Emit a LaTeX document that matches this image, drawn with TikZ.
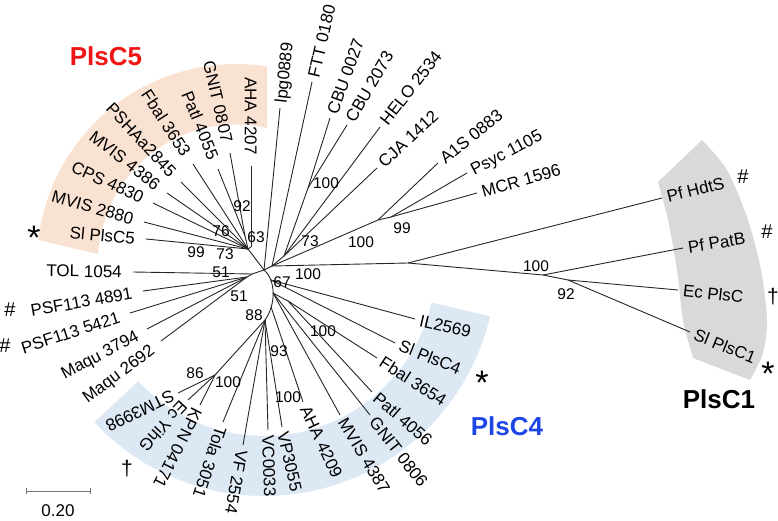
\documentclass[tikz,border=0pt]{standalone}
\usepackage{fontspec}
\setmainfont{Liberation Sans}
\usetikzlibrary{calc}
\definecolor{bandA}{RGB}{250,226,210}
\definecolor{bandB}{RGB}{221,232,245}
\definecolor{bandC}{RGB}{217,217,217}
\definecolor{redC}{RGB}{240,20,20}
\definecolor{blueC}{RGB}{30,70,230}
\newcommand\tipU[5]{\coordinate (#3e) at (#2); \draw[br] (#1) -- (#3e); \node[lab,anchor=west,inner xsep=5pt,rotate=#4] (#3) at (#3e) {#5};}
\newcommand\tipF[5]{\coordinate (#3e) at (#2); \draw[br] (#1) -- (#3e); \node[lab,anchor=east,inner xsep=11pt,rotate=#4] (#3) at (#3e) {#5};}
\begin{document}
\begin{tikzpicture}[x=1pt,y=-1pt,
  br/.style={line width=0.9pt, draw=black!85},
  lab/.style={font=\fontsize{17}{19}\selectfont, text height=12.2pt, text depth=0pt, inner ysep=0pt},
  bs/.style={font=\fontsize{15.5}{17}\selectfont, text height=11.1pt, text depth=0pt, inner sep=0pt},
  mk/.style={anchor=base, inner sep=0pt, font=\fontsize{20}{20}\selectfont},
  ast/.style={anchor=base, inner sep=0pt, font=\fontsize{34}{34}\selectfont},
  ttl/.style={font=\bfseries\fontsize{26}{28}\selectfont, text height=18.6pt, text depth=0pt, inner sep=0pt}]
\useasboundingbox (0,0) rectangle (778,521);
% background bands
\coordinate (c5) at (236,263);
\coordinate (c4) at (264,264);
\fill[bandA] ($(c5)+(186.7:199)$) arc[start angle=186.7, end angle=279, radius=199] -- (267,128) arc[start angle=283, end angle=183.4, radius=138] -- cycle;
\fill[bandB] ($(c4)+(13:172)$) arc[start angle=13, end angle=137, radius=172] -- ($(c4)+(137:232)$) arc[start angle=137, end angle=13, radius=232] -- cycle;
\fill[bandC] plot[smooth] coordinates {(702,140) (727,170) (748,220) (761,270) (767,320) (763,353) (750,380)} -- plot[smooth] coordinates {(693,358) (683,320) (677,270) (668,220) (658,182)} -- cycle;
% internal nodes
\coordinate (C) at (264,270);
\coordinate (B5) at (248,249);
\coordinate (n63) at (251,247);
\coordinate (n92) at (245,236);
\coordinate (L) at (252,274);
\coordinate (nL2) at (247,277);
\coordinate (R) at (272,266);
\coordinate (n73) at (284,256);
\coordinate (nCBU) at (308,188);
\coordinate (nA) at (378,220);
\coordinate (n99) at (391,217);
\coordinate (P1) at (408,263);
\coordinate (n100p) at (543,275);
\coordinate (n92p) at (568,280);
\coordinate (n88) at (265,320);
\coordinate (nKT) at (215,375);
\coordinate (n100b) at (288,301);
% internal branches
\draw[br] (C) -- (B5) -- (n63);
\draw[br] (B5) -- (n92);
\draw[br] (C) -- (L) -- (nL2);
\draw[br] (C) -- (R) -- (n73) -- (nCBU);
\draw[br] (R) -- (nA) -- (n99);
\draw[br] (R) -- (P1) -- (n100p) -- (n92p);
\draw[br] (C) .. controls (276,280) and (276,305) .. (n88) coordinate[pos=0.25] (q1) coordinate[pos=0.5] (q2) coordinate[pos=0.75] (q3);
\draw[br] (q2) -- (n100b);
\draw[br] (n88) -- (nKT);
% PlsC5 tips
\tipF{B5}{146,239}{t1}{-5}{Sl PlsC5}
\tipF{B5}{144,222}{t2}{-16}{MVIS 2880}
\tipF{B5}{153,203}{t3}{-25}{CPS 4830}
\tipF{B5}{167,193}{t4}{-38}{MVIS 4386}
\tipF{B5}{181,182}{t5}{-47}{PSHAa2845}
\tipF{B5}{193,164}{t6}{-57}{Fbal 3653}
\tipF{n92}{218,169}{t7}{-68}{Patl 4055}
\tipF{n92}{230,153}{t8}{-77}{GNIT 0807}
\tipF{n63}{251,166}{t9}{-90}{AHA 4207}
% left tips
\tipF{L}{133,272}{t10}{-1}{TOL 1054}
\tipF{nL2}{143,291}{t11}{10}{PSF113 4891}
\tipF{nL2}{130,313}{t12}{18}{PSF113 5421}
\tipF{nL2}{147,329}{t13}{28}{Maqu 3794}
\tipF{nL2}{161,341}{t14}{37}{Maqu 2692}
% upper right tips
\tipU{C}{280,108}{t15}{84}{lpg0889}
\tipU{R}{312,82}{t16}{77}{FTT 0180}
\tipU{nCBU}{330,118}{t17}{70}{CBU 0027}
\tipU{nCBU}{347,125}{t18}{60}{CBU 2073}
\tipU{n73}{380,127}{t19}{52}{HELO 2534}
\tipU{n73}{377,168}{t20}{43}{CJA 1412}
\tipU{nA}{438,163}{t21}{39}{A1S 0883}
\tipU{n99}{467,173}{t22}{28}{Psyc 1105}
\tipU{n99}{477,193}{t23}{16}{MCR 1596}
% PlsC1 tips
\tipU{P1}{662,198}{t24}{14}{Pf HdtS}
\tipU{n100p}{683,248}{t25}{9}{Pf PatB}
\tipU{n92p}{678,290}{t26}{-6}{Ec PlsC}
\tipU{n92p}{690,332}{t27}{-22}{Sl PlsC1}
% PlsC4 tips
\tipU{q1}{415,319}{t28}{-13}{IL2569}
\tipU{q1}{395,343}{t29}{-22}{Sl PlsC4}
\tipU{n100b}{377,358}{t30}{-33}{Fbal 3654}
\tipU{n100b}{372,392}{t31}{-41}{Patl 4056}
\tipU{q2}{370,415}{t32}{-52}{GNIT 0806}
\tipU{q2}{340,415}{t33}{-59}{MVIS 4387}
\tipU{q3}{303,402}{t34}{-65}{AHA 4209}
\tipU{n88}{282,427}{t35}{-77}{VP3055}
\tipU{n88}{268,430}{t36}{-88}{VC0033}
\tipU{n88}{243,445}{t37}{-100}{VF 2554}
\tipU{n88}{223,422}{t38}{-108}{Tola 3051}
\tipU{nKT}{200,405}{t39}{-117}{KPN 04171}
\tipU{nKT}{188,400}{t40}{-133}{Ec YihG}
\tipU{nKT}{178,393}{t41}{-154}{STM3998}
% bootstrap values
\node[bs] (b1) at (242,206) {92};
\node[bs] (b2) at (221,231) {76};
\node[bs] (b3) at (256,237) {63};
\node[bs] (b4) at (196,252) {99};
\node[bs] (b5) at (225,254) {73};
\node[bs] (b6) at (221,272) {51};
\node[bs] (b7) at (239,296) {51};
\node[bs] (b8) at (254,315) {88};
\node[bs] (b9) at (282,282) {67};
\node[bs] (b10) at (308,274) {100};
\node[bs] (b11) at (310,241) {73};
\node[bs] (b12) at (361,242) {100};
\node[bs] (b13) at (402,228) {99};
\node[bs] (b14) at (326,183) {100};
\node[bs] (b15) at (536,266) {100};
\node[bs] (b16) at (566,294) {92};
\node[bs] (b17) at (323,331) {100};
\node[bs] (b18) at (279,351) {93};
\node[bs] (b19) at (288,397) {100};
\node[bs] (b20) at (195,373) {86};
\node[bs] (b21) at (228,382) {100};
% markers
\node[ast] (m1) at (34,249.5) {*};
\node[mk] (m2) at (10,316) {\#};
\node[mk] (m3) at (5,352) {\#};
\node[mk,font=\fontsize{21}{21}\selectfont] (m4) at (127,475) {†};
\node[ast] (m5) at (482,394.5) {*};
\node[mk] (m6) at (743,184) {\#};
\node[mk] (m7) at (767,238) {\#};
\node[mk,font=\fontsize{21}{21}\selectfont] (m8) at (773,303) {†};
\node[ast] (m9) at (768,385.5) {*};
% clade titles
\node[ttl,text=redC] (T5) at (106,56) {PlsC5};
\node[ttl,text=blueC] (T4) at (507,426) {PlsC4};
\node[ttl] (T1) at (719,399) {PlsC1};
% scale bar
\coordinate (sbL) at (26,491);
\coordinate (sbR) at (90,491);
\draw[line width=0.9pt, black!55] (sbL) -- (sbR);
\draw[line width=0.9pt, black!55] ($(sbL)+(0,-3)$) -- ($(sbL)+(0,3)$);
\draw[line width=0.9pt, black!55] ($(sbR)+(0,-3)$) -- ($(sbR)+(0,3)$);
\node[lab] (sbt) at (58,510) {0.20};
\end{tikzpicture}
\end{document}
